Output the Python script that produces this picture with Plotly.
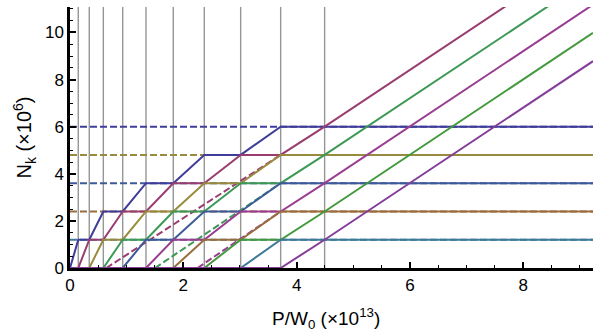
import colorsys
import plotly.graph_objects as go

# ---- data ----
# breakpoints along P/W0 (x10^13); the grey vertical lines sit at P_thr[1:-1]
P_thr = [0.0, 0.146, 0.340, 0.588, 0.930, 1.341, 1.823, 2.370, 3.012, 3.718, 4.494, 9.23]
vlines = [0.146, 0.340, 0.588, 0.930, 1.341, 1.823, 2.370, 3.012, 3.718, 4.494]

# N_k (x10^6) at each breakpoint, one list per curve k = 1..10
N1 = [0, 1.2, 1.2, 2.4, 2.4, 3.6, 3.6, 4.8, 4.8, 6.0, 6.0, 6.0]
N2 = [0, 0, 1.2, 1.2, 2.4, 2.4, 3.6, 3.6, 4.8, 4.8, 6.0, 13.58]
N3 = [0, 0, 0, 1.2, 1.2, 2.4, 2.4, 3.6, 3.6, 4.8, 4.8, 4.8]
N4 = [0, 0, 0, 0, 1.2, 1.2, 2.4, 2.4, 3.6, 3.6, 4.8, 12.38]
N5 = [0, 0, 0, 0, 0, 1.2, 1.2, 2.4, 2.4, 3.6, 3.6, 3.6]
N6 = [0, 0, 0, 0, 0, 0, 1.2, 1.2, 2.4, 2.4, 3.6, 11.18]
N7 = [0, 0, 0, 0, 0, 0, 0, 1.2, 1.2, 2.4, 2.4, 2.4]
N8 = [0, 0, 0, 0, 0, 0, 0, 0, 1.2, 1.2, 2.4, 9.98]
N9 = [0, 0, 0, 0, 0, 0, 0, 0, 0, 1.2, 1.2, 1.2]
N10 = [0, 0, 0, 0, 0, 0, 0, 0, 0, 0, 1.2, 8.78]
curves = [N1, N2, N3, N4, N5, N6, N7, N8, N9, N10]

# dashed saturation levels (curve index, level)
sat_idx = [0, 2, 4, 6, 8]
sat_levels = [6.0, 4.8, 3.6, 2.4, 1.2]

# dashed sloped guides (curve index, x-start, x-end, y-end)
slope_idx = [1, 3, 5]
slope_x0 = [0.64, 1.5, 2.25]
slope_x1 = [3.718, 3.718, 3.718]
slope_y1 = [4.8, 3.6, 2.4]

x_title = "P/W<sub>0</sub> (×10<sup>13</sup>)"
y_title = "N<sub>k</sub> (×10<sup>6</sup>)"

# ---- styling ----
hues = [0.67, 0.906068, 0.142136, 0.378204, 0.614272, 0.85034,
        0.0864079, 0.322476, 0.558544, 0.794612]
def col(h):
    r, g, b = colorsys.hsv_to_rgb(h, 0.6, 0.6)
    return "rgb(%d,%d,%d)" % (round(r * 255), round(g * 255), round(b * 255))
colors = [col(h) for h in hues]

fig = go.Figure()

for xv in vlines:
    fig.add_trace(go.Scatter(x=[xv, xv], y=[0, 11.1], mode="lines",
                             line=dict(color="rgb(150,150,150)", width=1.4),
                             hoverinfo="skip", showlegend=False))

for i, lv in zip(sat_idx, sat_levels):
    fig.add_trace(go.Scatter(x=[0, P_thr[-1]], y=[lv, lv], mode="lines",
                             line=dict(color=colors[i], width=2, dash="7px,3px"),
                             showlegend=False))

for i, x0, x1, y1 in zip(slope_idx, slope_x0, slope_x1, slope_y1):
    fig.add_trace(go.Scatter(x=[x0, x1], y=[0, y1], mode="lines",
                             line=dict(color=colors[i], width=2, dash="7px,3px"),
                             showlegend=False))

for i, ys in enumerate(curves):
    fig.add_trace(go.Scatter(x=P_thr, y=ys, mode="lines",
                             line=dict(color=colors[i], width=2),
                             showlegend=False))

font = "Liberation Sans, Arial, sans-serif"
fig.update_layout(
    width=593, height=334,
    margin=dict(l=70, r=0, t=7, b=66),
    plot_bgcolor="white", paper_bgcolor="white",
    font=dict(family=font, size=17, color="black"),
    xaxis=dict(range=[0, 9.23], showgrid=False, zeroline=False,
               showline=True, linecolor="black", linewidth=2.5,
               ticks="inside", ticklen=6, tickwidth=1.5, tickcolor="black",
               tickvals=[0, 2, 4, 6, 8],
               minor=dict(ticks="inside", ticklen=3.5, tickwidth=1.2,
                          tickcolor="black", dtick=0.5)),
    yaxis=dict(range=[0, 11.08], showgrid=False, zeroline=False,
               showline=True, linecolor="black", linewidth=2.5,
               ticks="inside", ticklen=6, tickwidth=1.5, tickcolor="black",
               tickvals=[0, 2, 4, 6, 8, 10],
               minor=dict(ticks="inside", ticklen=3.5, tickwidth=1.2,
                          tickcolor="black", dtick=0.5),
               title=dict(text=y_title, font=dict(size=20), standoff=8)),
    annotations=[dict(text=x_title, xref="x", x=4.51, yref="paper", y=0,
                      yshift=-50, xanchor="center", yanchor="middle",
                      showarrow=False, font=dict(size=19))],
)

fig.write_html("out.html")
